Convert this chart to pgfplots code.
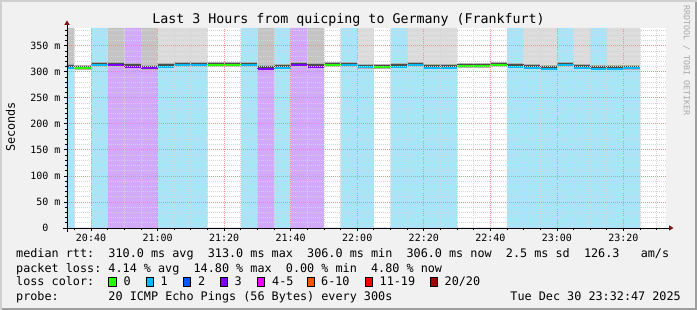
\documentclass[border=0pt]{standalone}
\usepackage{pgfplots}
\pgfplotsset{compat=1.18}
\usepackage{pgfplotstable}
\usepackage{fontspec}
\setmainfont{DejaVu Sans Mono}
\setmonofont{DejaVu Sans Mono}
\definecolor{bgc}{HTML}{F1F1F1}
\definecolor{shadeA}{HTML}{CFCFCF}
\definecolor{shadeB}{HTML}{9E9E9E}
\definecolor{arrowc}{HTML}{7F1010}
\definecolor{lossA}{HTML}{26FF00}
\definecolor{lossB}{HTML}{00B8FF}
\definecolor{lossC}{HTML}{0059FF}
\definecolor{lossD}{HTML}{7E00FF}
\definecolor{lossE}{HTML}{EE00FF}
\definecolor{lossF}{HTML}{FF5500}
\definecolor{lossG}{HTML}{FF0000}
\definecolor{lossH}{HTML}{A10000}
\definecolor{bgblue}{HTML}{AAE4F8}
\definecolor{bgpurple}{HTML}{D3A9FC}
\definecolor{toplight}{HTML}{DCDCDC}
\definecolor{topdark}{HTML}{C4C4C4}
\definecolor{smokeout}{HTML}{B0B0B0}
\definecolor{smokein}{HTML}{4C4C4C}
\definecolor{gridminor}{HTML}{D4D4D4}
\definecolor{gridmajor}{HTML}{F09090}
\definecolor{wmark}{HTML}{A8A8A8}

\pgfplotstableread{
x       lg   dg   lb   pu   med  mg    mb    mp
32.783  0    384  308  0    308  -100  308   -100
35      0    0    0    0    307  307   -100  -100
40      0    0    384  0    312  -100  312   -100
45      0    384  0    312  312  -100  -100  312
50      0    0    0    384  310  -100  -100  310
55      0    384  0    307  307  -100  -100  307
60      384  0    310  0    310  -100  310   -100
65      384  0    313  0    313  -100  313   -100
70      384  0    313  0    313  -100  313   -100
75      0    0    0    0    313  313   -100  -100
80      0    0    0    0    313  313   -100  -100
85      0    0    384  0    313  -100  313   -100
90      0    384  0    306  306  -100  -100  306
95      0    0    384  0    308  -100  308   -100
100     0    0    0    384  313  -100  -100  313
105     0    384  0    310  310  -100  -100  310
110     0    0    0    0    313  313   -100  -100
115     0    0    384  0    312  -100  312   -100
120     384  0    309  0    309  -100  309   -100
125     0    0    0    0    309  309   -100  -100
130     0    0    384  0    310  -100  310   -100
135     384  0    313  0    313  -100  313   -100
140     384  0    308  0    308  -100  308   -100
145     384  0    308  0    308  -100  308   -100
150     0    0    0    0    311  311   -100  -100
155     0    0    0    0    311  311   -100  -100
160     0    0    0    0    313  313   -100  -100
165     0    0    384  0    310  -100  310   -100
170     384  0    308  0    308  -100  308   -100
175     384  0    306  0    306  -100  306   -100
180     0    0    384  0    313  -100  313   -100
185     384  0    308  0    308  -100  308   -100
190     0    0    384  0    306  -100  306   -100
195     384  0    306  0    306  -100  306   -100
200     384  0    307  0    307  -100  307   -100
205     384  0    307  0    307  -100  307   -100
}\cols

\begin{document}
\begin{tikzpicture}
\useasboundingbox (0pt,0pt) rectangle (697pt,310pt);
\begin{scope}[x=1pt,y=1pt]
\fill[bgc] (0,0) rectangle (697,310);
\fill[shadeA] (0,0) rectangle (2,310);
\fill[shadeA] (0,308) rectangle (697,310);
\fill[shadeB] (695,0) rectangle (697,308);
\fill[shadeB] (2,0) rectangle (697,2);
\end{scope}

\begin{axis}[
  at={(67pt,82pt)}, anchor=south west,
  scale only axis, width=599pt, height=200pt,
  xmin=32.783, xmax=212.783, ymin=0, ymax=384,
  axis background/.style={fill=white},
  axis line style={draw=none},
  xtick={40,60,80,100,120,140,160,180,200},
  xticklabels={20:40,21:00,21:20,21:40,22:00,22:20,22:40,23:00,23:20},
  minor xtick={35,40,...,210},
  ytick={0,50,...,350},
  yticklabels={{0\hphantom{~m}},{50~m},{100~m},{150~m},{200~m},{250~m},{300~m},{350~m}},
  minor ytick={10,20,...,380},
  grid=both,
  major grid style={draw=gridmajor, line width=0.8pt, dash pattern=on 1pt off 1pt},
  minor grid style={draw=gridminor, line width=0.8pt, dash pattern=on 1pt off 1pt},
  axis on top,
  tick align=outside, xtick pos=bottom, ytick pos=left,
  major tick length=3pt, minor tick length=2pt,
  every tick/.style={black, line width=0.8pt},
  every minor tick/.style={black, line width=0.8pt},
  ticklabel style={font=\fontsize{10}{12}\selectfont},
]
\addplot[const plot mark left, fill=toplight, draw=none] table[x=x,y=lg]{\cols} \closedcycle;
\addplot[const plot mark left, fill=topdark, draw=none] table[x=x,y=dg]{\cols} \closedcycle;
\addplot[const plot mark left, fill=bgblue, draw=none] table[x=x,y=lb]{\cols} \closedcycle;
\addplot[const plot mark left, fill=bgpurple, draw=none] table[x=x,y=pu]{\cols} \closedcycle;
\addplot[jump mark left, smokeout, line width=4.7pt, yshift=0.8pt] table[x=x,y=med]{\cols};
\addplot[jump mark left, smokein, line width=1.8pt, yshift=1.3pt] table[x=x,y=med]{\cols};
\addplot[jump mark left, lossA, line width=2pt] table[x=x,y=mg]{\cols};
\addplot[jump mark left, lossB, line width=2pt] table[x=x,y=mb]{\cols};
\addplot[jump mark left, lossD, line width=2pt] table[x=x,y=mp]{\cols};
\end{axis}

\begin{scope}[x=1pt,y=1pt]
% axis lines with arrows
\draw[black, line width=0.9pt] (67,78) -- (67,285);
\fill[arrowc] (64.3,285) -- (69.7,285) -- (67,289.5) -- cycle;
\draw[black, line width=0.9pt] (62.7,82) -- (669,82);
\fill[arrowc] (669,79.3) -- (669,84.7) -- (673.5,82) -- cycle;

% title and labels
\node[anchor=base, inner sep=0pt, font=\fontsize{13.3}{16}\selectfont] at (348.5,286) {Last 3 Hours from quicping to Germany (Frankfurt)};
\node[rotate=90, inner sep=0pt, font=\fontsize{11.8}{14}\selectfont] at (10.5,183) {Seconds};
\node[rotate=-90, anchor=west, inner sep=0pt, text=wmark, font=\fontsize{8.3}{10}\selectfont] at (686.5,305) {RRDTOOL / TOBI OETIKER};

% legend
\begin{scope}[every node/.style={inner sep=0pt, font=\fontsize{11.79}{14}\selectfont}]
\node[anchor=base west] at (16,52) {median~rtt:~~310.0~ms~avg~~313.0~ms~max~~306.0~ms~min~~306.0~ms~now~~2.5~ms~sd~~126.3~~~am/s};
\node[anchor=base west] at (16,37.7) {packet~loss:~4.14~\%~avg~~14.80~\%~max~~0.00~\%~min~~4.80~\%~now};
\node[anchor=base west] at (16,24) {loss~color:};
\node[anchor=base west] at (16,9.3) {probe:~~~~~~~20~ICMP~Echo~Pings~(56~Bytes)~every~300s};
\node[anchor=base east] at (681,9.3) {Tue~Dec~30~23:32:47~2025};
\node[anchor=base west] at (123.5,24) {0};
\node[anchor=base west] at (160.5,24) {1};
\node[anchor=base west] at (197.8,24) {2};
\node[anchor=base west] at (234.5,24) {3};
\node[anchor=base west] at (272,24) {4-5};
\node[anchor=base west] at (321,24) {6-10};
\node[anchor=base west] at (379.5,24) {11-19};
\node[anchor=base west] at (444.5,24) {20/20};
\end{scope}
\begin{scope}[line width=0.9pt]
\filldraw[fill=lossA, draw=black] (108.5,23.5) rectangle (116,32.5);
\filldraw[fill=lossB, draw=black] (146,23.5) rectangle (153.5,32.5);
\filldraw[fill=lossC, draw=black] (183,23.5) rectangle (190.5,32.5);
\filldraw[fill=lossD, draw=black] (220.2,23.5) rectangle (227.7,32.5);
\filldraw[fill=lossE, draw=black] (257,23.5) rectangle (264.5,32.5);
\filldraw[fill=lossF, draw=black] (307,23.5) rectangle (314.5,32.5);
\filldraw[fill=lossG, draw=black] (365.2,23.5) rectangle (372.7,32.5);
\filldraw[fill=lossH, draw=black] (430.2,23.5) rectangle (437.7,32.5);
\end{scope}
\end{scope}
\end{tikzpicture}
\end{document}
